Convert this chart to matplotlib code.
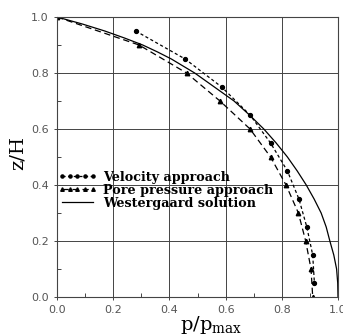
import matplotlib
matplotlib.use("Agg")
import matplotlib.pyplot as plt
from matplotlib.ticker import MultipleLocator

# Velocity approach
vel_x = [0.28, 0.456, 0.586, 0.687, 0.76, 0.82, 0.861, 0.889, 0.91, 0.916]
vel_y = [0.95, 0.85, 0.75, 0.65, 0.55, 0.45, 0.35, 0.25, 0.15, 0.05]

# Pore pressure approach
pore_x = [0.0, 0.292, 0.461, 0.58, 0.687, 0.76, 0.815, 0.859, 0.885, 0.904, 0.91]
pore_y = [1.0, 0.9, 0.8, 0.7, 0.6, 0.5, 0.4, 0.3, 0.2, 0.1, 0.0]

# Westergaard solution
west_x = [0.0, 0.09, 0.17, 0.24, 0.305, 0.358, 0.407, 0.49, 0.56, 0.63, 0.685, 0.736,
          0.78, 0.82, 0.855, 0.887, 0.915, 0.94, 0.958, 0.971, 0.985, 0.995, 0.999, 1.0]
west_y = [1.0, 0.975, 0.95, 0.925, 0.9, 0.875, 0.85, 0.8, 0.75, 0.7, 0.65, 0.6,
          0.55, 0.5, 0.45, 0.4, 0.35, 0.3, 0.25, 0.2, 0.15, 0.1, 0.05, 0.0]

labels = ["Velocity approach", "Pore pressure approach", "Westergaard solution"]
ticks = [0.0, 0.2, 0.4, 0.6, 0.8, 1.0]
tick_labels = ["0.0", "0.2", "0.4", "0.6", "0.8", "1.0"]

fig = plt.figure(figsize=(3.43, 3.35), dpi=100)
ax = fig.add_axes([57/343, 1-297/335, 281/343, 280/335])

ax.plot(vel_x, vel_y, color="black", lw=0.9, ls=(0, (2.5, 2.0)),
        marker="o", ms=2.8, label=labels[0])
ax.plot(pore_x, pore_y, color="black", lw=0.9, ls=(0, (5, 3)),
        marker="^", ms=3.2, label=labels[1])
ax.plot(west_x, west_y, color="black", lw=0.9, ls="-", label=labels[2])

ax.set_xlim(0, 1)
ax.set_ylim(0, 1)
ax.set_xticks(ticks)
ax.set_xticklabels(tick_labels)
ax.set_yticks(ticks)
ax.set_yticklabels(tick_labels)
ax.xaxis.set_minor_locator(MultipleLocator(0.1))
ax.yaxis.set_minor_locator(MultipleLocator(0.1))
ax.grid(True, which="major", color="#444444", lw=0.7)
ax.tick_params(which="major", direction="inout", length=5, width=0.7,
               colors="#444444", labelsize=8, labelcolor="#555555")
ax.tick_params(which="minor", direction="in", length=3, width=0.7, colors="#444444")
for s in ax.spines.values():
    s.set_color("#444444")
    s.set_linewidth(0.8)

ax.set_xlabel(r"p/p$_{\mathregular{max}}$", family="DejaVu Serif", fontsize=14)
ax.xaxis.set_label_coords(0.55, -0.062)
ax.set_ylabel("z/H", family="DejaVu Serif", fontsize=14)
ax.yaxis.set_label_coords(-0.107, 0.515)

leg = ax.legend(loc="upper left", bbox_to_anchor=(0.0, 0.455), frameon=False,
                prop={"family": "DejaVu Serif", "weight": "bold", "size": 9.2},
                handlelength=3.0, handletextpad=0.5, borderaxespad=0.0,
                labelspacing=0.0, borderpad=0.1, markerscale=0.8, numpoints=5)

fig.savefig("out.png", dpi=100)
